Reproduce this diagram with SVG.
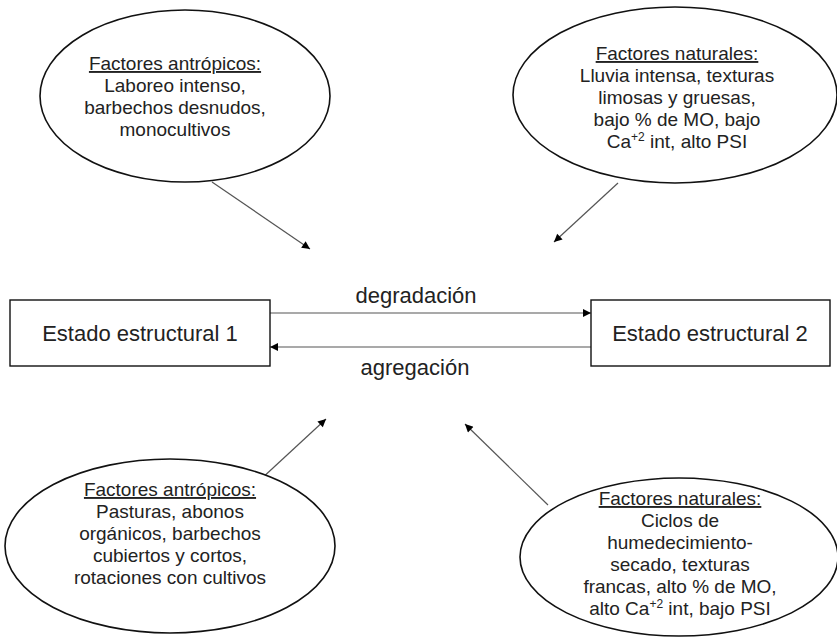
<svg xmlns="http://www.w3.org/2000/svg" width="837" height="638" viewBox="0 0 837 638">
<style>
  text { font-family: "Liberation Sans", Arial, sans-serif; fill: #222; }
  .et { font-size: 19px; text-anchor: middle; }
  .hd { text-decoration: underline; }
  .big { font-size: 22px; text-anchor: middle; }
  .ell { fill: #fff; stroke: #111; stroke-width: 1.6; }
  .box { fill: #fff; stroke: #111; stroke-width: 1.4; }
  .con { stroke: #555; stroke-width: 1.2; fill: none; marker-end: url(#ah); }
</style>
<defs>
  <marker id="ah" viewBox="0 0 10 10" refX="10" refY="5" markerWidth="10" markerHeight="8" markerUnits="userSpaceOnUse" orient="auto">
    <path d="M0,0 L10,5 L0,10 z" fill="#000"/>
  </marker>
</defs>
<rect width="837" height="638" fill="#fff"/>

<g id="connectors">
  <line class="con" x1="270" y1="313" x2="591" y2="313"/>
  <line class="con" x1="591" y1="347" x2="270" y2="347"/>
  <line class="con" x1="212" y1="182" x2="310" y2="249"/>
  <line class="con" x1="618" y1="183" x2="554" y2="242"/>
  <line class="con" x1="260" y1="480" x2="326" y2="419"/>
  <line class="con" x1="548" y1="505" x2="465" y2="424"/>
  <text class="big" x="416" y="303">degradación</text>
  <text class="big" x="415" y="375">agregación</text>
</g>

<g id="ant-degr">
  <ellipse class="ell" cx="185" cy="96" rx="145" ry="86"/>
  <text class="et hd" x="175" y="70">Factores antrópicos:</text>
  <text class="et" x="175" y="92">Laboreo intenso,</text>
  <text class="et" x="175" y="114">barbechos desnudos,</text>
  <text class="et" x="175" y="136">monocultivos</text>
</g>

<g id="nat-degr">
  <ellipse class="ell" cx="675" cy="95" rx="162" ry="88"/>
  <text class="et hd" x="677" y="60">Factores naturales:</text>
  <text class="et" x="677" y="82">Lluvia intensa, texturas</text>
  <text class="et" x="677" y="104">limosas y gruesas,</text>
  <text class="et" x="677" y="126">bajo % de MO, bajo</text>
  <text class="et" x="677" y="148">Ca<tspan font-size="12" dy="-7">+2</tspan><tspan dy="7"> int, alto PSI</tspan></text>
</g>

<g id="estado1">
  <rect class="box" x="10" y="300" width="260" height="66"/>
  <text class="big" x="140" y="341">Estado estructural 1</text>
</g>

<g id="estado2">
  <rect class="box" x="591" y="300" width="239" height="66"/>
  <text class="big" x="710" y="341">Estado estructural 2</text>
</g>

<g id="ant-agr">
  <ellipse class="ell" cx="170" cy="546" rx="165" ry="87"/>
  <text class="et hd" x="170" y="496">Factores antrópicos:</text>
  <text class="et" x="170" y="518">Pasturas, abonos</text>
  <text class="et" x="170" y="540">orgánicos, barbechos</text>
  <text class="et" x="170" y="562">cubiertos y cortos,</text>
  <text class="et" x="170" y="584">rotaciones con cultivos</text>
</g>

<g id="nat-agr">
  <ellipse class="ell" cx="679" cy="557" rx="159" ry="79"/>
  <text class="et hd" x="680" y="505">Factores naturales:</text>
  <text class="et" x="680" y="527">Ciclos de</text>
  <text class="et" x="680" y="549">humedecimiento-</text>
  <text class="et" x="680" y="571">secado, texturas</text>
  <text class="et" x="680" y="593">francas, alto % de MO,</text>
  <text class="et" x="680" y="615">alto Ca<tspan font-size="12" dy="-7">+2</tspan><tspan dy="7"> int, bajo PSI</tspan></text>
</g>
</svg>
